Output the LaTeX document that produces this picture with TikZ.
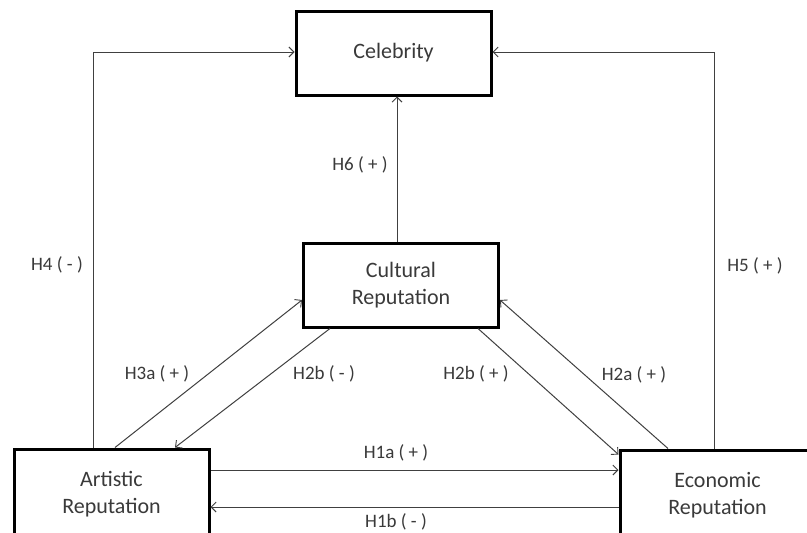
\documentclass[tikz,border=0pt]{standalone}
\usepackage{fontspec}
\setmainfont{Carlito}
\usetikzlibrary{arrows.meta,calc}
\definecolor{txt}{HTML}{3A3A3A}
\definecolor{ln}{HTML}{404040}
\tikzset{
  box/.style={draw=black,line width=3pt,minimum width=195pt,minimum height=84pt,inner sep=0pt,
    align=center,text=txt,font=\fontsize{22}{27}\selectfont},
  conn/.style={draw=ln,line width=1pt,-{Straight Barb[length=5pt,width=10pt,line width=0.9pt]}},
  lbl/.style={text=txt,inner sep=0pt,font=\fontsize{19}{22}\selectfont}
}
\begin{document}
\begin{tikzpicture}[x=1pt,y=-1pt]
\useasboundingbox (0,0) rectangle (807,533);
\clip (0,0) rectangle (807,533);
\fill[white] (0,0) rectangle (807,533);
\node[box] (cel) at (393.5,53) {Celebrity};
\node[box] (cul) at (401,285) {Cultural\\Reputation};
\node[box,minimum height=90pt] (art) at (111.5,494) {Artistic\\Reputation};
\node[box,minimum height=90pt] (eco) at (717.5,495) {Economic\\Reputation};
% H4 / H5
\draw[conn] ($(art.north)+(-18.5,0)$) |- ($(cel.west)+(0,-1)$);
\draw[conn] ($(eco.north)+(-3.5,0)$) |- ($(cel.east)+(0,-1)$);
% H6
\draw[conn] ($(cul.north)+(-4,0)$) -- ($(cel.south)+(3.5,0)$);
% H3a, H2b(-)
\draw[conn] ($(art.north)+(3.5,0)$) -- ($(cul.west)+(0,15)$);
\draw[conn] ($(cul.south)+(-71,0)$) -- ($(art.north)+(63.5,0)$);
% H2b(+), H2a(+)
\draw[conn] ($(cul.south)+(77,0)$) -- ($(eco.north west)+(0,6)$);
\draw[conn] ($(eco.north)+(-49.5,0)$) -- ($(cul.east)+(0,15)$);
% H1a, H1b
\draw[conn] (art.east |- 0,470) -- (eco.west |- 0,470);
\draw[conn] (eco.west |- 0,507) -- (art.east |- 0,507);
% labels
\node[lbl] (l4) at (57,265) {H4 ( - )};
\node[lbl] (l5) at (755,266) {H5 ( + )};
\node[lbl] (l6) at (360,165) {H6 ( + )};
\node[lbl] (l3a) at (157,374) {H3a ( + )};
\node[lbl] (l2bm) at (324,374) {H2b ( - )};
\node[lbl] (l2bp) at (476,374) {H2b ( + )};
\node[lbl] (l2a) at (634,375) {H2a ( + )};
\node[lbl] (l1a) at (396,453) {H1a ( + )};
\node[lbl] (l1b) at (396,522) {H1b ( - )};
\end{tikzpicture}
\end{document}
